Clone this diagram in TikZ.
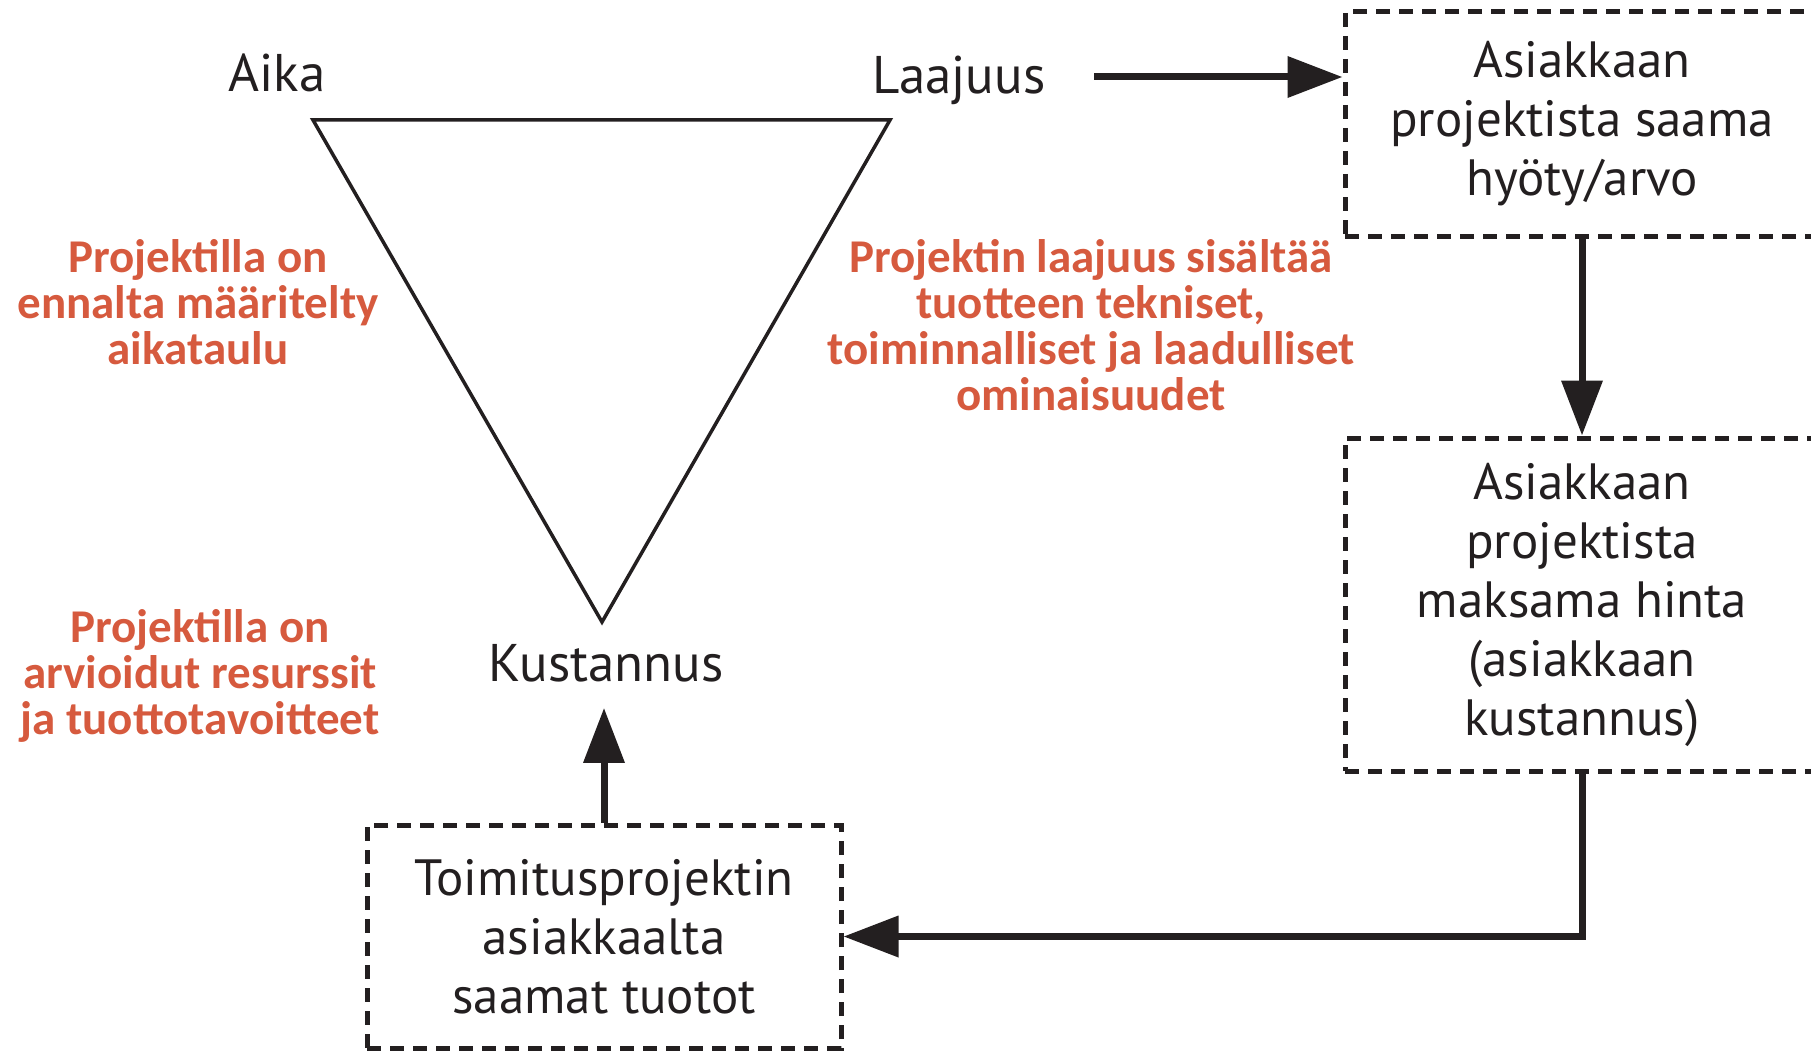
\documentclass[tikz,border=0pt]{standalone}
\usepackage{fontspec}
\setmainfont{PT Sans}
\newfontfamily\notefont{Carlito}
\usetikzlibrary{arrows.meta,positioning}

\definecolor{ink}{HTML}{231F20}
\definecolor{notered}{RGB}{214,90,62}

\begin{document}
\begin{tikzpicture}[
    x = 1pt, y = -1pt, % one unit per pixel, y downwards
    line join = miter,
    ink,
    semithick % line style
    ]

    \tikzset{
    corner/.style = {font=\fontsize{53}{60}\selectfont, inner sep=0pt, anchor=base},
    dashbox/.style = {draw, line width=5pt, dash pattern=on 14pt off 9pt,
        minimum width=474pt, inner sep=0pt, align=center,
        font=\fontsize{51}{59}\selectfont},
    note/.style = {notered, align=center, inner sep=0pt, anchor=base,
        font=\notefont\bfseries\fontsize{47}{46}\selectfont},
    flow/.style = {line width=7pt, -{Triangle[length=55pt,width=40pt]}}
    }

    \useasboundingbox (0,0) rectangle (1811,1051);

    % triangle
    \coordinate (tl) at (313,120);
    \coordinate (tr) at (890,120);
    \coordinate (bt) at (602,622);
    \draw[line width=3.5pt] (tl) -- (tr) -- (bt) -- cycle;

    \node[corner] (time) at (277,92) {Aika};
    \node[corner] (scope) at (959,94) {Laajuus};
    \node[corner] (cost) at (606,681) {Kustannus};

    % boxes
    \node[dashbox, minimum height=224pt] (benefit) at (1582,124)
        {Asiakkaan\\projektista saama\\hyöty/arvo};
    \node[dashbox, minimum height=333pt] (price) at (1582,604.5)
        {Asiakkaan\\projektista\\maksama hinta\\(asiakkaan\\kustannus)};
    \node[dashbox, minimum height=223pt] (revenue) at (604,936.5)
        {Toimitusprojektin\\asiakkaalta\\saamat tuotot};

    % notes (base = last line)
    \node[note] (timenote) at (198,364)
        {Projektilla on\\ennalta määritelty\\aikataulu};
    \node[note] (scopenote) at (1091,410)
        {Projektin laajuus sisältää\\tuotteen tekniset,\\toiminnalliset ja laadulliset\\ominaisuudet};
    \node[note] (costnote) at (200,734)
        {Projektilla on\\arvioidut resurssit\\ja tuottotavoitteet};

    % connectors
    \coordinate (scopeout) at (1094,77);
    \coordinate (costin) at ([yshift=-26pt]cost.south);
    \draw[flow] (scopeout) -- (scopeout -| benefit.west);
    \draw[flow] (benefit.south) -- (price.north);
    \draw[flow] (price.south) |- (revenue.east);
    \draw[flow] (revenue.north) -- (revenue.north |- costin);
\end{tikzpicture}
\end{document}
